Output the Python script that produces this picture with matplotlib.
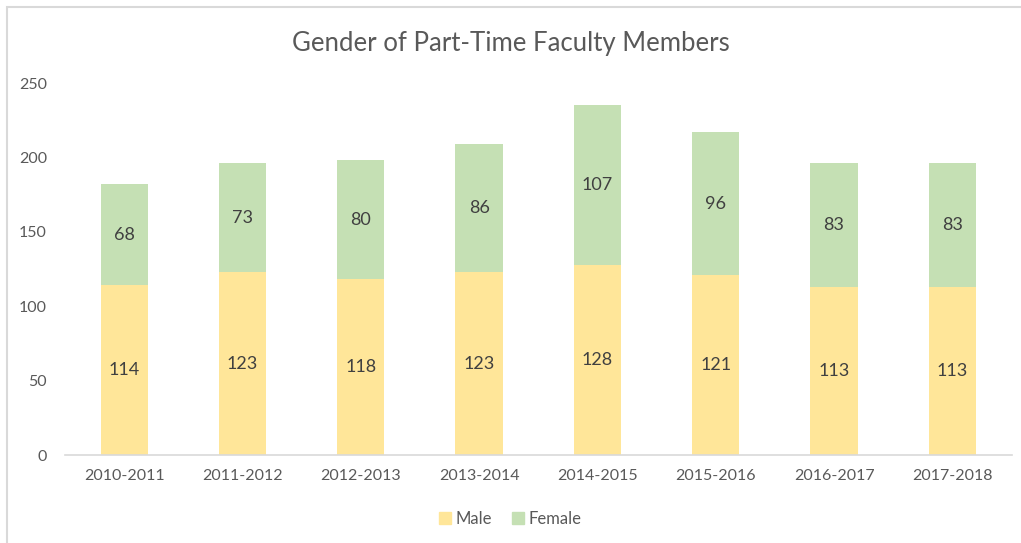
import matplotlib.pyplot as plt
from matplotlib.patches import Rectangle, Patch

years = ["2010-2011", "2011-2012", "2012-2013", "2013-2014",
         "2014-2015", "2015-2016", "2016-2017", "2017-2018"]
male = [114, 123, 118, 123, 128, 121, 113, 113]
female = [68, 73, 80, 86, 107, 96, 83, 83]

male_color = "#FFE699"
female_color = "#C5E0B4"
text_color = "#595959"

plt.rcParams['font.family'] = ['Lato', 'DejaVu Sans']

fig = plt.figure(figsize=(10.21, 5.43), dpi=100)
ax = fig.add_axes([0.0637, 0.162, 0.927, 0.685])

x = range(len(years))
ax.bar(x, male, width=0.4, color=male_color)
ax.bar(x, female, width=0.4, bottom=male, color=female_color)

for i in x:
    ax.text(i, male[i] / 2, str(male[i]), ha='center', va='center',
            fontsize=13, color="#404040")
    ax.text(i, male[i] + female[i] / 2, str(female[i]), ha='center',
            va='center', fontsize=13, color="#404040")

ax.set_xlim(-0.5, len(years) - 0.5)
ax.set_ylim(0, 250)
ax.set_yticks(range(0, 251, 50))
ax.set_xticks(list(x))
ax.set_xticklabels(years)
ax.tick_params(axis='both', length=0, labelsize=11.5, colors=text_color)
ax.tick_params(axis='y', pad=13)
ax.tick_params(axis='x', pad=10)
for s in ['top', 'right', 'left']:
    ax.spines[s].set_visible(False)
ax.spines['bottom'].set_color("#D9D9D9")
ax.spines['bottom'].set_linewidth(1.2)

fig.text(0.5, 0.92, "Gender of Part-Time Faculty Members", ha='center',
         va='center', fontsize=18.5, color=text_color)

handles = [Patch(color=male_color, label="Male"),
           Patch(color=female_color, label="Female")]
fig.legend(handles=handles, loc='center', bbox_to_anchor=(0.5, 0.044),
           ncol=2, frameon=False, fontsize=12, labelcolor=text_color,
           handlelength=0.7, handleheight=0.7, handletextpad=0.3,
           columnspacing=1.2)

# chart border, cut off at right and bottom like the screenshot
fig.patches.append(Rectangle((7 / 1021, -0.1), 1.2, 0.1 + 536 / 543,
                             transform=fig.transFigure, fill=False,
                             edgecolor="#D9D9D9", linewidth=1.5))

fig.savefig("out.png", dpi=100)
